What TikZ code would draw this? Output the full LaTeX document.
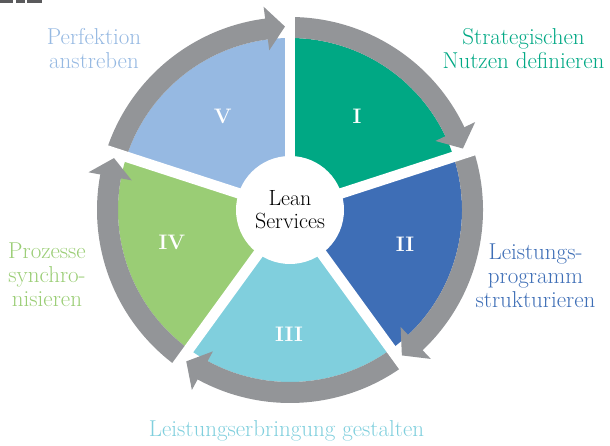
\documentclass[tikz,border=0pt]{standalone}
\usepackage{fontspec}
\definecolor{cI}{RGB}{0,168,132}
\definecolor{cII}{RGB}{62,110,182}
\definecolor{cIII}{RGB}{128,207,221}
\definecolor{cIV}{RGB}{154,205,117}
\definecolor{cV}{RGB}{150,185,226}
\definecolor{arrowgray}{RGB}{147,149,152}
\definecolor{topgray}{RGB}{90,90,92}
\begin{document}
\begin{tikzpicture}[x=1pt,y=1pt,
  gapline/.style={draw=white, line width=10.5pt},
  numeral/.style={text=white, font=\fontsize{21}{23}\selectfont\bfseries, inner sep=0pt},
  lbl/.style={font=\fontsize{23}{24}\selectfont, align=center, anchor=base, inner sep=0pt},
  hub/.style={circle, fill=white, minimum size=108pt, inner sep=0pt, align=center,
    font=\fontsize{22}{23}\selectfont}]
\useasboundingbox (0,0) rectangle (610,446);
% cropped marks at the top left corner
\fill[topgray] (0,443.3) rectangle (13,446);
\fill[topgray] (16,443.3) rectangle (25,446);
\fill[topgray] (27,443.3) rectangle (42,446);
\begin{scope}[shift={(290,236)}]
  % sectors
  \foreach \a/\c in {18/cI, -54/cII, -126/cIII, -198/cIV, -270/cV} {
    \fill[\c] (0,0) -- (\a:172) arc[start angle=\a, end angle=\a+72, radius=172] -- cycle;
  }
  % arrow bands
  \foreach \s in {90,18,-54,-126,-198} {
    \pgfmathsetmacro\b{\s-65.1}
    \fill[arrowgray] (\s:193) arc[start angle=\s, end angle=\b, radius=193]
      -- (\b:172) arc[start angle=\b, end angle=\s, radius=172] -- cycle;
  }
  % gaps
  \foreach \a in {90,18,-54,-126,162} {
    \draw[gapline] (0,0) -- (\a:215);
  }
  % hub
  \node[hub] (lean) at (0,0) {Lean\\Services};
  % arrow heads
  \foreach \s in {90,18,-54,-126,-198} {
    \pgfmathsetmacro\t{\s-70.43}
    \pgfmathsetmacro\b{\s-64.6}
    \fill[arrowgray] (\t:183.5) -- (\b:205) -- (\b:161) -- cycle;
  }
  % numerals
  \node[numeral] (n1) at (67,93.5) {I};
  \node[numeral] (n2) at (115,-34) {II};
  \node[numeral] (n3) at (-1,-124) {III};
  \node[numeral] (n4) at (-118,-32) {IV};
  \node[numeral] (n5) at (-67.3,94) {V};
\end{scope}
% labels (anchor = baseline of the last line)
\node[lbl, text=cV] (l5) at (94,377) {Perfektion\\anstreben};
\node[lbl, text=cI] (l1) at (523.5,377) {Strategischen\\Nutzen definieren};
\node[lbl, text=cII] (l2) at (535.5,138) {Leistungs-\\programm\\strukturieren};
\node[lbl, text=cIV] (l4) at (47,139) {Prozesse\\synchro-\\nisieren};
\node[lbl, text=cIII] (l3) at (286.5,9) {Leistungserbringung gestalten};
\end{tikzpicture}
\end{document}
